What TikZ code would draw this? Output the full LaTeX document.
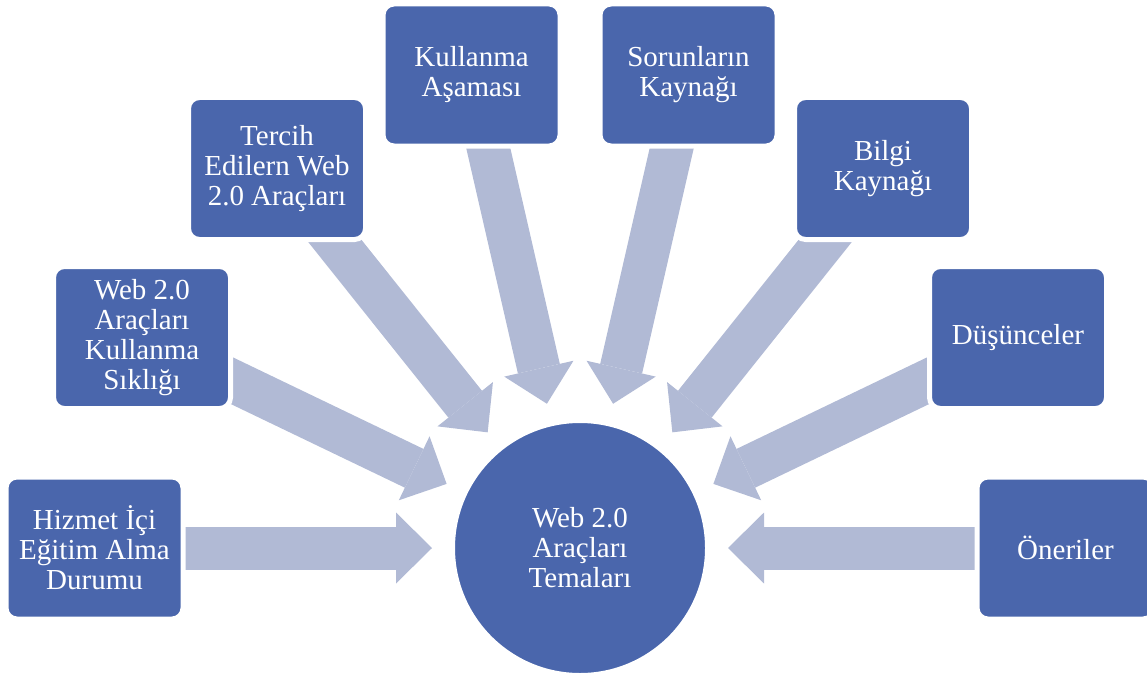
\documentclass[tikz,border=0pt]{standalone}
\usepackage{fontspec}
\setmainfont{Liberation Serif}
\usetikzlibrary{arrows.meta,backgrounds}

\definecolor{kutumavi}{RGB}{74,102,172}
\definecolor{okmavi}{RGB}{177,186,213}

\tikzset{
	kutu/.style={rectangle, rounded corners=11pt, fill=kutumavi, draw=white, line width=5pt,
		minimum width=177pt, minimum height=142pt, text=white, align=center,
		font=\fontsize{29}{30}\selectfont},
	merkez/.style={circle, fill=kutumavi, draw=white, line width=5pt, minimum size=255pt,
		text=white, align=center, font=\fontsize{29}{30}\selectfont},
	ok/.style={okmavi, line width=43pt,
		-{Triangle[length=36pt, width=71pt, line width=0pt]}, shorten >=148pt}
}

\begin{document}
\begin{tikzpicture}[x=1pt, y=-1pt]

		\useasboundingbox (0,0) rectangle (1147,674);

		\node[merkez] (hub) at (580,548) {Web 2.0\\Araçları\\Temaları}; %Merkez

		\node[kutu] (b1) at (94.5,548) {Hizmet İçi\\Eğitim Alma\\Durumu};
		\node[kutu] (b2) at (142,337.5) {Web 2.0\\Araçları\\Kullanma\\Sıklığı};
		\node[kutu] (b3) at (277,168.5) {Tercih\\Edilern Web\\2.0 Araçları};
		\node[kutu] (b4) at (471.5,75) {Kullanma\\Aşaması};
		\node[kutu] (b5) at (688.5,75) {Sorunların\\Kaynağı};
		\node[kutu] (b6) at (883,168.5) {Bilgi\\Kaynağı};
		\node[kutu] (b7) at (1018,337.5) {Düşünceler};
		\node[kutu] (b8) at (1065.5,548) {Öneriler};

		\begin{scope}[on background layer]
			\foreach \k in {b1,b2,b3,b4,b5,b6,b7,b8}
				\draw[ok] (\k.center) -- (hub.center); %Oklar
		\end{scope}

	\end{tikzpicture}
\end{document}
